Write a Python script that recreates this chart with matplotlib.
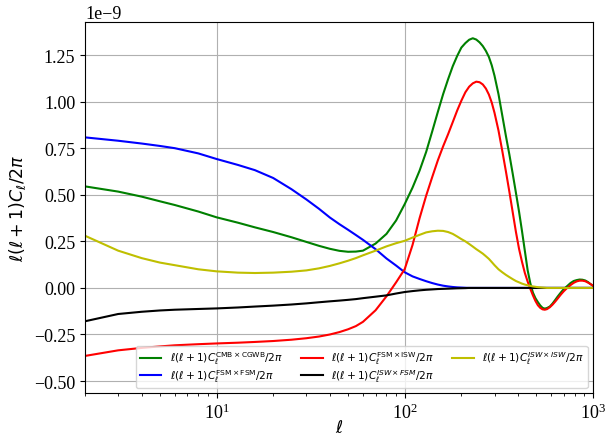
import matplotlib
matplotlib.use("Agg")
import matplotlib.pyplot as plt
import numpy as np

plt.rcParams['font.family'] = 'serif'
plt.rcParams['font.serif'] = ['Liberation Serif', 'DejaVu Serif']
plt.rcParams['mathtext.fontset'] = 'dejavusans'

ell = [2, 3, 4, 5, 6, 8, 10, 13, 16, 20, 25, 30, 35, 40, 45, 50, 55,
       60, 70, 80, 90, 100, 110, 120, 130, 140, 150, 160, 170, 180, 190, 200,
       210, 220, 230, 240, 250, 260, 270, 280, 290, 300,
       315, 330, 345, 360, 375, 390, 405, 420, 435, 450, 465, 480, 495, 510,
       525, 540, 555, 570,
       590, 610, 630, 650, 675, 700,
       730, 760, 790, 820, 850, 880, 910, 940, 970, 1000]

cmb_cgwb = [0.545, 0.517, 0.490, 0.465, 0.445, 0.410, 0.379, 0.350, 0.325, 0.300,
            0.272, 0.247, 0.226, 0.210, 0.199, 0.194, 0.195,
            0.200, 0.238, 0.290, 0.362, 0.450, 0.538, 0.630, 0.730, 0.840, 0.945,
            1.040, 1.120, 1.190, 1.245, 1.290,
            1.314, 1.332, 1.340, 1.333, 1.318, 1.298, 1.272, 1.240, 1.195, 1.139,
            1.040, 0.925, 0.815, 0.715, 0.612, 0.510, 0.410, 0.305, 0.198, 0.095,
            0.025, -0.025, -0.055, -0.076,
            -0.094, -0.107, -0.111, -0.108,
            -0.100, -0.084, -0.065, -0.046, -0.025, -0.006,
            0.010, 0.026, 0.037, 0.042, 0.045, 0.044, 0.040, 0.032, 0.021, 0.012]

fsm_fsm = [0.808, 0.790, 0.775, 0.762, 0.750, 0.722, 0.692, 0.660, 0.632, 0.590,
           0.530, 0.475, 0.425, 0.378, 0.342, 0.312, 0.284,
           0.258, 0.208, 0.158, 0.120, 0.084, 0.062, 0.048, 0.036, 0.026, 0.018,
           0.012, 0.008, 0.005, 0.003, 0.002,
           0.001, 0.0, 0.0, 0.0, 0.0, 0.0, 0.0, 0.0, 0.0, 0.0,
           0.0, 0.0, 0.0, 0.0, 0.0, 0.0, 0.0, 0.0, 0.0, 0.0,
           0.0, 0.0, 0.0, 0.0,
           0.0, 0.0, 0.0, 0.0,
           0.0, 0.0, 0.0, 0.0, 0.0, 0.0,
           0.0, 0.0, 0.0, 0.0, 0.0, 0.0, 0.0, 0.0, 0.0, 0.0]

fsm_isw = [-0.365, -0.335, -0.322, -0.314, -0.308, -0.302, -0.298, -0.294, -0.290, -0.285,
           -0.278, -0.270, -0.261, -0.250, -0.237, -0.222, -0.205,
           -0.182, -0.120, -0.045, 0.030, 0.101, 0.230, 0.375, 0.495, 0.595, 0.685,
           0.760, 0.825, 0.890, 0.952, 1.005,
           1.050, 1.080, 1.098, 1.107, 1.104, 1.092, 1.070, 1.038, 0.995, 0.940,
           0.845, 0.735, 0.625, 0.515, 0.405, 0.300, 0.210, 0.140, 0.080, 0.034,
           -0.005, -0.040, -0.070, -0.093,
           -0.107, -0.115, -0.117, -0.114,
           -0.104, -0.090, -0.074, -0.057, -0.036, -0.018,
           0.000, 0.015, 0.027, 0.035, 0.039, 0.039, 0.036, 0.029, 0.021, 0.012]

isw_fsm = [-0.179, -0.140, -0.128, -0.121, -0.117, -0.113, -0.110, -0.105, -0.100, -0.095,
           -0.089, -0.083, -0.077, -0.072, -0.068, -0.064, -0.060,
           -0.055, -0.047, -0.040, -0.030, -0.022, -0.017, -0.013, -0.010, -0.008, -0.006,
           -0.005, -0.004, -0.003, -0.002, -0.0015,
           -0.001, 0.0, 0.0, 0.0, 0.0, 0.0, 0.0, 0.0, 0.0, 0.0,
           0.0, 0.0, 0.0, 0.0, 0.0, 0.0, 0.0, 0.0, 0.0, 0.0,
           0.0, 0.0, 0.0, 0.0,
           0.0, 0.0, 0.0, 0.0,
           0.0, 0.0, 0.0, 0.0, 0.0, 0.0,
           0.0, 0.0, 0.0, 0.0, 0.0, 0.0, 0.0, 0.0, 0.0, 0.0]

isw_isw = [0.280, 0.200, 0.160, 0.136, 0.122, 0.100, 0.089, 0.082, 0.080, 0.082,
           0.087, 0.094, 0.105, 0.118, 0.132, 0.146, 0.160,
           0.175, 0.200, 0.223, 0.240, 0.253, 0.270, 0.285, 0.298, 0.304, 0.307,
           0.306, 0.300, 0.290, 0.276, 0.262,
           0.250, 0.236, 0.222, 0.208, 0.196, 0.184, 0.170, 0.156, 0.139, 0.122,
           0.100, 0.084, 0.070, 0.058, 0.047, 0.037, 0.030, 0.023, 0.018, 0.014,
           0.011, 0.008, 0.006, 0.004,
           0.003, 0.002, 0.001, 0.0,
           0.0, 0.0, 0.0, 0.0, 0.0, 0.0,
           0.0, 0.0, 0.0, 0.0, 0.0, 0.0, 0.0, 0.0, 0.0, 0.0]

labels = [r'$\ell(\ell+1)C_\ell^{\rm CMB\times CGWB}/2\pi$',
          r'$\ell(\ell+1)C_\ell^{\rm FSM\times FSM}/2\pi$',
          r'$\ell(\ell+1)C_\ell^{\rm FSM\times ISW}/2\pi$',
          r'$\ell(\ell+1)C_\ell^{ISW\times FSM}/2\pi$',
          r'$\ell(\ell+1)C_\ell^{ISW\times ISW}/2\pi$']
series = [cmb_cgwb, fsm_fsm, fsm_isw, isw_fsm, isw_isw]
colors = ['g', 'b', 'r', 'k', 'y']

fig = plt.figure(figsize=(6.05, 4.39), dpi=100)
ax = fig.add_axes([0.1405, 0.1025, 0.8395, 0.845])
x = np.array(ell, dtype=float)
for vals, c, lab in zip(series, colors, labels):
    assert len(vals) == len(ell)
    ax.plot(x, np.array(vals) * 1e-9, color=c, lw=1.5, label=lab)

ax.set_xscale('log')
ax.set_xlim(2, 1000)
ax.set_ylim(-0.564e-9, 1.427e-9)
ax.grid(True)
ax.tick_params(labelsize=13)
ax.yaxis.get_offset_text().set_fontsize(13)
ax.set_xlabel(r'$\ell$', fontsize=12.5, labelpad=-2)
ax.set_ylabel(r'$\ell(\ell+1)C_\ell/2\pi$', fontsize=12.5, labelpad=4)
ax.legend(loc='lower right', ncol=3, fontsize=7.7, labelspacing=0.08,
          borderpad=0.35, columnspacing=1.7)

fig.savefig('out.png', dpi=100)
